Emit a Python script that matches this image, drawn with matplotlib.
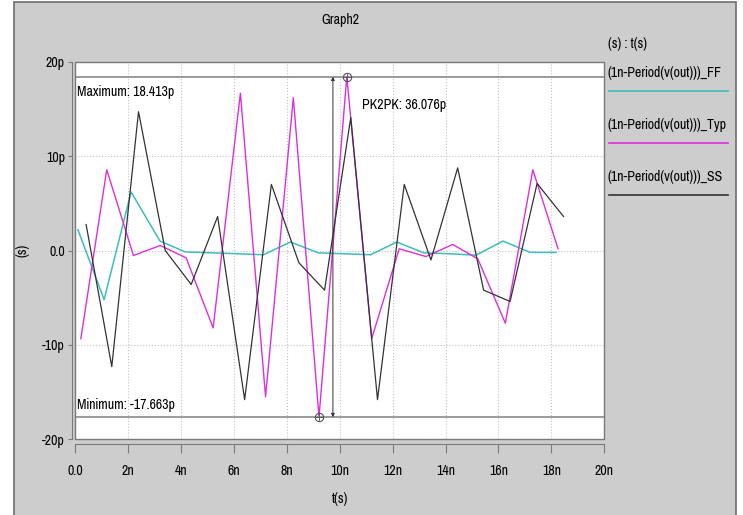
import matplotlib.pyplot as plt
import matplotlib.font_manager as fm
from matplotlib.font_manager import FontProperties
from matplotlib.lines import Line2D
from matplotlib.patches import Rectangle
from matplotlib.textpath import TextPath

# the reference uses a narrow sans; take the first narrow face installed
installed = {f.name for f in fm.fontManager.ttflist}
family = "Liberation Sans"
for cand in ["Liberation Sans Narrow", "Pragati Narrow", "Archivo Narrow",
             "PT Sans Narrow", "Roboto Condensed", "Arimo"]:
    if cand in installed:
        family = cand
        break
plt.rcParams["font.family"] = [family, "DejaVu Sans"]

# size the font so the legend entry is as wide as in the reference (~118 px)
probe = TextPath((0, 0), "(1n-Period(v(out)))_Typ", size=10, prop=FontProperties(family=family))
font_size = 10 * 118 / probe.get_extents().width * 72 / 100

# cycle times (n) and period error (p) for each corner
t_ff = [0.11, 1.10, 2.12, 3.21, 4.17, 5.19, 6.17, 7.12, 8.14, 9.20,
        10.19, 11.17, 12.16, 13.18, 14.20, 15.15, 16.17, 17.20, 18.18]
ff = [2.2, -5.2, 6.2, 1.0, -0.15, -0.25, -0.35, -0.45, 0.9, -0.25,
      -0.35, -0.45, 0.9, -0.25, -0.35, -0.5, 1.0, -0.2, -0.2]

t_typ = [0.22, 1.20, 2.21, 3.22, 4.20, 5.22, 6.25, 7.20, 8.25, 9.22,
         10.27, 11.21, 12.25, 13.26, 14.27, 15.22, 16.26, 17.30, 18.25]
typ = [-9.35, 8.55, -0.53, 0.53, -0.78, -8.2, 16.65, -15.5, 16.2, -17.663,
       18.413, -9.35, 0.18, -0.64, 0.64, -0.88, -7.7, 8.55, 0.2]

t_ss = [0.42, 1.39, 2.40, 3.41, 4.39, 5.39, 6.41, 7.42, 8.46, 9.43,
        10.42, 11.43, 12.44, 13.45, 14.46, 15.44, 16.44, 17.46, 18.46]
ss = [2.75, -12.3, 14.7, 0.0, -3.6, 3.6, -15.8, 7.0, -1.3, -4.2,
      14.1, -15.8, 7.0, -1.0, 8.75, -4.2, -5.4, 7.1, 3.6]

series_names = ["(1n-Period(v(out)))_FF", "(1n-Period(v(out)))_Typ", "(1n-Period(v(out)))_SS"]
xticks = [0, 2, 4, 6, 8, 10, 12, 14, 16, 18, 20]
xticklabels = ["0.0", "2n", "4n", "6n", "8n", "10n", "12n", "14n", "16n", "18n", "20n"]
yticks = [-20, -10, 0, 10, 20]
yticklabels = ["-20p", "-10p", "0.0", "10p", "20p"]

bg = "#cdcdcd"
edge = "#7a7a7a"
colors = ["#3dbdbd", "#dd2fdd", "#333333"]

W, H = 743, 515
fig = plt.figure(figsize=(W / 100, H / 100), dpi=100, facecolor="white")


def fx(px):
    return px / W


def fy(py):
    return 1 - py / H


# gray graph window with its frame
fig.add_artist(Rectangle((fx(14), fy(H + 5)), fx(736) - fx(14), fy(2) - fy(H + 5),
                         transform=fig.transFigure, facecolor=bg, edgecolor="#6e6e6e",
                         lw=1.2, zorder=0))

ax = fig.add_axes([fx(75), fy(439.3), (604.3 - 75) / W, (439.3 - 61.7) / H])
ax.set_facecolor("white")
ax.set_xlim(0, 20)
ax.set_ylim(-20, 20)

for name in ["top", "right"]:
    ax.spines[name].set_visible(False)
ax.spines["left"].set_color(edge)
ax.spines["bottom"].set_color(edge)
ax.spines["left"].set_position(("outward", 2.2))
ax.spines["bottom"].set_position(("outward", 3.6))
ax.add_patch(Rectangle((0, 0), 1, 1, transform=ax.transAxes, fill=False,
                       edgecolor=edge, lw=1.0, zorder=5, clip_on=False))

ax.set_xticks(xticks)
ax.set_xticklabels(xticklabels)
ax.set_yticks(yticks)
ax.set_yticklabels(yticklabels)
ax.tick_params(axis="x", length=6.5, width=0.8, color=edge, pad=8, labelsize=font_size)
ax.tick_params(axis="y", length=3.0, width=0.8, color=edge, pad=2, labelsize=font_size)
ax.grid(True, color="#c4c4c4", linestyle=":", linewidth=0.8)
ax.set_axisbelow(True)

ax.plot(t_ff, ff, color=colors[0], lw=1.1)
ax.plot(t_typ, typ, color=colors[1], lw=1.0)
ax.plot(t_ss, ss, color=colors[2], lw=0.9)

# peak-to-peak markers on the Typ curve
i_max = typ.index(max(typ))
i_min = typ.index(min(typ))
y_max, y_min = typ[i_max], typ[i_min]
ax.axhline(y_max, color="#8a8a8a", lw=1.2, zorder=3)
ax.axhline(y_min, color="#8a8a8a", lw=1.2, zorder=3)
for i in (i_max, i_min):
    ax.plot(t_typ[i], typ[i], marker="o", ms=6, mfc="none", mec="#555555", mew=0.8, zorder=6)
    ax.plot(t_typ[i], typ[i], marker="+", ms=6, mec="#555555", mew=0.6, zorder=6)
x_arrow = (t_typ[i_max] + t_typ[i_min]) / 2
ax.annotate("", xy=(x_arrow, y_max), xytext=(x_arrow, y_min),
            arrowprops=dict(arrowstyle="<|-|>", color="#333333", lw=0.7,
                            mutation_scale=5, shrinkA=0, shrinkB=0))
ax.text(0.004, y_max - 1.6, "Maximum: %.3fp" % y_max, fontsize=font_size, va="center", ha="left",
        transform=ax.get_yaxis_transform())
ax.text(0.004, y_min + 1.25, "Minimum: %.3fp" % y_min, fontsize=font_size, va="center", ha="left",
        transform=ax.get_yaxis_transform())
ax.text(x_arrow + 1.1, y_max - 3.0, "PK2PK: %.3fp" % (y_max - y_min), fontsize=font_size,
        va="center", ha="left")

ax.set_xlabel("t(s)", fontsize=font_size)
ax.xaxis.set_label_coords(0.5, -(491.7 - 439.3) / (439.3 - 61.7))
ax.set_ylabel("(s)", fontsize=font_size)
ax.yaxis.set_label_coords(-(75 - 30) / (604.3 - 75), 0.5)

fig.text(fx(340), fy(20), "Graph2", ha="center", va="center", fontsize=font_size)

# legend panel on the right
fig.text(fx(608), fy(44), "(s) : t(s)", ha="left", va="center", fontsize=font_size)
for k, (name, c) in enumerate(zip(series_names, colors)):
    ty = 73 + 52 * k
    ly = 91 + 52 * k
    fig.text(fx(608), fy(ty), name, ha="left", va="center", fontsize=font_size)
    fig.add_artist(Line2D([fx(609), fx(728)], [fy(ly), fy(ly)], color=c, lw=1.2))

fig.savefig("out.png", dpi=100, facecolor="white")
